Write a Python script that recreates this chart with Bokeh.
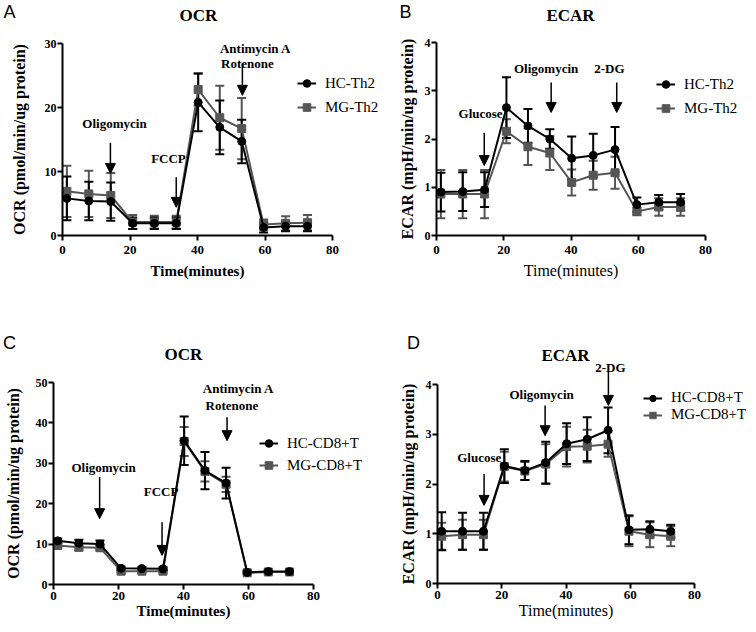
from bokeh.plotting import figure
from bokeh.layouts import gridplot
from bokeh.models import (Range1d, FixedTicker, Label, Arrow, NormalHead, Whisker,
                          TeeHead, ColumnDataSource, Legend, LegendItem)
from bokeh.embed import file_html
from bokeh.resources import INLINE

# ---------------- data ----------------
time_min = [1.3, 7.8, 14.3, 20.8, 27.2, 33.7, 40.2, 46.6, 53.1, 59.6, 66.1, 72.6]
x_ticks = [0, 20, 40, 60, 80]

# A: OCR, Th2
a_hc = [5.8, 5.4, 5.3, 1.9, 1.9, 1.9, 20.8, 16.9, 14.7, 1.25, 1.45, 1.45]
a_hc_err = [3.4, 3.0, 3.0, 0.9, 0.9, 0.9, 4.5, 4.2, 3.4, 0.8, 0.8, 0.8]
a_mg = [6.9, 6.5, 6.25, 2.1, 2.1, 2.1, 22.8, 18.4, 16.7, 1.7, 1.9, 2.0]
a_mg_err = [4.0, 3.6, 3.5, 1.1, 1.0, 1.0, 2.5, 5.0, 4.8, 0.8, 1.1, 1.2]
a_yticks = [0, 10, 20, 30]

# B: ECAR, Th2
b_hc = [0.90, 0.91, 0.95, 2.65, 2.27, 2.0, 1.6, 1.66, 1.78, 0.64, 0.69, 0.69]
b_hc_err = [0.4, 0.4, 0.36, 0.63, 0.35, 0.2, 0.45, 0.45, 0.47, 0.15, 0.15, 0.17]
b_mg = [0.86, 0.86, 0.86, 2.16, 1.84, 1.71, 1.1, 1.25, 1.3, 0.5, 0.59, 0.59]
b_mg_err = [0.5, 0.5, 0.5, 0.25, 0.38, 0.35, 0.27, 0.3, 0.33, 0.08, 0.18, 0.18]
b_yticks = [0, 1, 2, 3, 4]

# C: OCR, CD8+T
c_hc = [10.8, 10.2, 10.0, 4.0, 3.95, 3.9, 35.6, 28.2, 25.1, 3.0, 3.2, 3.2]
c_hc_err = [0.6, 0.9, 0.9, 0.4, 0.4, 0.4, 6.0, 4.6, 3.8, 0.3, 0.3, 0.3]
c_mg = [9.65, 9.2, 9.1, 3.3, 3.3, 3.3, 35.4, 28.0, 24.8, 2.9, 3.1, 3.1]
c_mg_err = [0.5, 0.7, 0.7, 0.3, 0.3, 0.3, 3.6, 2.5, 1.9, 0.3, 0.3, 0.3]
c_yticks = [0, 10, 20, 30, 40, 50]

# D: ECAR, CD8+T
d_hc = [1.05, 1.05, 1.05, 2.36, 2.27, 2.43, 2.81, 2.9, 3.08, 1.08, 1.09, 1.05]
d_hc_err = [0.38, 0.37, 0.37, 0.34, 0.19, 0.42, 0.41, 0.44, 0.46, 0.29, 0.16, 0.13]
d_mg = [0.95, 0.98, 0.98, 2.35, 2.26, 2.4, 2.75, 2.76, 2.8, 1.05, 0.98, 0.95]
d_mg_err = [0.27, 0.3, 0.3, 0.3, 0.18, 0.4, 0.4, 0.33, 0.25, 0.3, 0.25, 0.2]
d_yticks = [0, 1, 2, 3, 4]

# injection annotations (text, x, y) and arrows (x, y_start, y_tip), data units
a_notes = [("Oligomycin", 15.4, 17.5), ("FCCP", 31.4, 12.0),
           ("Antimycin A", 57.2, 29.2), ("Rotenone", 54.8, 26.9)]
a_arrows = [(14.2, 14.5, 9.7), (33.7, 9.1, 4.4), (53.3, 26.9, 21.9)]
b_notes = [("Glucose", 13.1, 2.53), ("Oligomycin", 32.6, 3.46), ("2-DG", 51.4, 3.46)]
b_arrows = [(14.2, 2.13, 1.45), (34.1, 3.17, 2.55), (53.6, 3.17, 2.55)]
c_notes = [("Oligomycin", 15.4, 29.0), ("FCCP", 33.1, 23.1),
           ("Antimycin A", 56.9, 48.5), ("Rotenone", 54.9, 44.3)]
c_arrows = [(14.2, 26.6, 16.3), (33.4, 15.4, 7.2), (53.4, 41.4, 35.6)]
d_notes = [("Glucose", 13.0, 2.53), ("Oligomycin", 32.4, 3.8), ("2-DG", 53.8, 4.35)]
d_arrows = [(14.5, 2.2, 1.57), (33.5, 3.58, 2.97), (53.2, 4.25, 3.58)]

SERIF = "Liberation Serif"
SANS = "Liberation Sans"
HC_COLOR = "#000000"
MG_COLOR = "#555555"
COL_W = [380, 374]
ROW_H = 314


def make_panel(origin, fig_w, axes_px, ymax, yticks, ylabel, xbold, ylab_standoff,
               xtick_standoff, xlab_standoff,
               hc, hc_err, mg, mg_err, names, leg_px, leg_row,
               notes, arrows, title, title_px, letter, letter_px):
    # origin: page position of figure's top-left; axes_px: (x0, x80, y0, ytop)
    ox, oy = origin
    x0p, x80p, y0p, ytp = axes_px
    sx = 80.0 / (x80p - x0p)
    sy = ymax / (y0p - ytp)
    xr = Range1d((ox - x0p) * sx, (ox + fig_w - x0p) * sx)
    yr = Range1d((y0p - oy - ROW_H) * sy, (y0p - oy) * sy)

    def dx(px):
        return (px - x0p) * sx

    def dy(py):
        return (y0p - py) * sy

    p = figure(frame_width=fig_w, frame_height=ROW_H, min_border=0,
               x_range=xr, y_range=yr, output_backend="svg",
               toolbar_location=None, title=None)
    p.outline_line_color = None
    p.grid.visible = False
    p.xaxis.ticker = FixedTicker(ticks=x_ticks)
    p.yaxis.ticker = FixedTicker(ticks=yticks)
    p.xaxis.fixed_location = 0
    p.yaxis.fixed_location = 0
    p.xaxis.bounds = (0, 80)
    p.yaxis.bounds = (0, ymax)
    for ax in (p.xaxis[0], p.yaxis[0]):
        ax.axis_line_width = 2
        ax.major_tick_line_width = 2
        ax.major_tick_in = 0
        ax.major_tick_out = 5
        ax.minor_tick_line_color = None
        ax.major_label_text_font = SERIF
        ax.major_label_text_font_style = "bold"
        ax.major_label_text_color = "black"
        ax.axis_label_text_font = SERIF
        ax.axis_label_text_color = "black"
    p.xaxis.major_label_text_font_size = "13px"
    p.yaxis.major_label_text_font_size = "12px"
    p.xaxis.major_label_standoff = xtick_standoff
    p.xaxis.axis_label = "Time(minutes)"
    p.xaxis.axis_label_text_font_size = "15px" if xbold else "16px"
    p.xaxis.axis_label_text_font_style = "bold" if xbold else "normal"
    p.xaxis.axis_label_standoff = xlab_standoff
    p.yaxis.major_label_standoff = 1
    p.yaxis.axis_label = ylabel
    p.yaxis.axis_label_text_font_size = "16px"
    p.yaxis.axis_label_text_font_style = "bold"
    p.yaxis.axis_label_standoff = ylab_standoff

    items = []
    series = [(mg, mg_err, MG_COLOR, "square", names[1]),
              (hc, hc_err, HC_COLOR, "circle", names[0])]
    for vals, err, col, mk, name in series:
        src = ColumnDataSource(dict(
            x=time_min, y=vals,
            upper=[v + e for v, e in zip(vals, err)],
            lower=[v - e for v, e in zip(vals, err)]))
        w = Whisker(source=src, base="x", upper="upper", lower="lower",
                    line_color=col, line_width=2,
                    upper_head=TeeHead(size=9, line_color=col, line_width=2),
                    lower_head=TeeHead(size=9, line_color=col, line_width=2))
        p.add_layout(w)
        lr = p.line("x", "y", source=src, line_color=col, line_width=2)
        sr = p.scatter("x", "y", source=src, marker=mk, size=8,
                       fill_color=col, line_color=col)
        items.append(LegendItem(label=name, renderers=[lr, sr]))
    items = items[::-1]
    lx, ly_bottom = leg_px
    leg = Legend(items=items, location=(lx - ox, oy + ROW_H - ly_bottom),
                 border_line_color=None, background_fill_alpha=0, padding=0,
                 margin=0, spacing=0, glyph_width=19, glyph_height=leg_row,
                 label_height=leg_row, label_standoff=9,
                 label_text_font=SERIF, label_text_font_size="15px",
                 label_text_color="black")
    p.add_layout(leg)

    for txt, x, y in notes:
        p.add_layout(Label(x=x, y=y, text=txt, text_align="center",
                           text_baseline="middle", text_font=SERIF,
                           text_font_style="bold", text_font_size="13px",
                           text_color="black"))
    for x, y0, y1 in arrows:
        p.add_layout(Arrow(x_start=x, y_start=y0, x_end=x, y_end=y1,
                           line_color="black", line_width=1.5,
                           end=NormalHead(size=10, fill_color="black",
                                          line_color="black")))
    p.add_layout(Label(x=dx(title_px[0]), y=dy(title_px[1]), text=title,
                       text_align="center", text_baseline="middle",
                       text_font=SERIF, text_font_style="bold",
                       text_font_size="17px", text_color="black"))
    p.add_layout(Label(x=dx(letter_px[0]), y=dy(letter_px[1]), text=letter,
                       text_align="center", text_baseline="middle",
                       text_font=SANS, text_font_size="18px",
                       text_color="black"))
    return p


pa = make_panel((0, 0), COL_W[0], (62, 332, 235, 43), 30, a_yticks,
                "OCR (pmol/min/ug protein)", True, 14, 5, 6,
                a_hc, a_hc_err, a_mg, a_mg_err,
                ["HC-Th2", "MG-Th2"], (297, 119), 24, a_notes, a_arrows,
                "OCR", (198, 15), "A", (9, 11))
pb = make_panel((COL_W[0], 0), COL_W[1], (436, 705, 235, 42), 4, b_yticks,
                "ECAR (mpH/min/ug protein)", False, 6, 5, 5,
                b_hc, b_hc_err, b_mg, b_mg_err,
                ["HC-Th2", "MG-Th2"], (656, 120), 24, b_notes, b_arrows,
                "ECAR", (570, 15), "B", (405, 11))
pc = make_panel((0, ROW_H), COL_W[0], (53, 313, 584, 382), 50, c_yticks,
                "OCR (pmol/min/ug protein)", True, 11, 2, 0,
                c_hc, c_hc_err, c_mg, c_mg_err,
                ["HC-CD8+T", "MG-CD8+T"], (259, 476), 22, c_notes, c_arrows,
                "OCR", (183, 354), "C", (9, 342))
pd_ = make_panel((COL_W[0], ROW_H), COL_W[1], (437, 694, 583, 384), 4, d_yticks,
                 "ECAR (mpH/min/ug protein)", False, 6, 2, 0,
                 d_hc, d_hc_err, d_mg, d_mg_err,
                 ["HC-CD8+T", "MG-CD8+T"], (643, 423), 16, d_notes, d_arrows,
                 "ECAR", (565, 355), "D", (413, 342))

grid = gridplot([[pa, pb], [pc, pd_]], toolbar_location=None)
open("out.html", "w").write(file_html(grid, INLINE))
